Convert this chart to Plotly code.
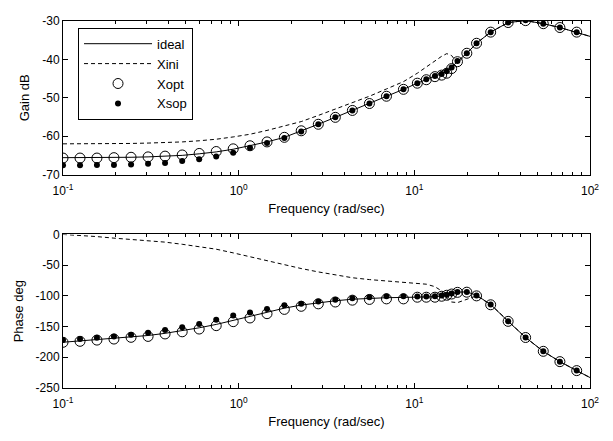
import plotly.graph_objects as go

# ---------------- data ----------------
freq = [0.1, 0.125, 0.156, 0.195, 0.244, 0.305, 0.381, 0.477, 0.596, 0.745,
        0.931, 1.16, 1.45, 1.82, 2.27, 2.84, 3.55, 4.44, 5.55, 6.94,
        8.67, 10.4, 11.7, 13.1, 14.3, 15.3, 16.3, 17.6, 19.9, 22.6,
        27.2, 34.2, 43.0, 54.2, 67.4, 84.0]
freq_line = freq + [100.0]

gain_ideal = [-65.6, -65.6, -65.6, -65.5, -65.5, -65.4, -65.2, -65.0, -64.6, -64.1,
              -63.4, -62.5, -61.5, -60.3, -58.7, -56.9, -55.1, -53.3, -51.5, -49.6,
              -47.8, -46.2, -45.2, -44.3, -43.8, -43.1, -42.1, -40.5, -38.4, -35.8,
              -32.9, -30.4, -29.9, -30.7, -31.7, -32.9, -34.0]
gain_xini = [-62.0, -62.0, -62.0, -62.0, -61.9, -61.8, -61.7, -61.5, -61.2, -60.8,
             -60.2, -59.5, -58.5, -57.4, -56.2, -54.6, -53.0, -51.4, -49.6, -47.7,
             -45.8, -43.6, -41.9, -40.3, -39.2, -38.5, -39.0, -41.0, -38.4, -35.8,
             -32.9, -30.4, -29.9, -30.7, -31.7, -32.9, -34.0]
gain_xopt = [-65.7, -65.7, -65.7, -65.6, -65.5, -65.4, -65.2, -64.9, -64.5, -64.0,
             -63.3, -62.5, -61.5, -60.3, -58.6, -56.9, -55.1, -53.3, -51.5, -49.6,
             -47.8, -46.2, -45.3, -44.5, -44.1, -43.6, -42.4, -40.6, -38.4, -35.8,
             -32.9, -30.4, -29.9, -30.7, -31.7, -32.9]
gain_xsop = [-67.6, -67.6, -67.5, -67.5, -67.4, -67.2, -67.0, -66.5, -66.0, -65.3,
             -64.3, -63.0, -61.8, -60.5, -58.8, -56.9, -55.1, -53.3, -51.5, -49.6,
             -47.8, -46.2, -45.2, -44.3, -43.8, -43.1, -42.1, -40.4, -38.4, -35.8,
             -32.9, -30.4, -29.8, -30.7, -31.7, -32.9]

phase_ideal = [-175.5, -173.5, -171.5, -169.5, -167.0, -164.5, -161.0, -157.0, -152.0, -146.5,
               -140.0, -133.5, -126.5, -120.0, -115.0, -111.0, -108.0, -105.5, -104.0, -103.0,
               -102.5, -102.0, -102.0, -101.5, -100.0, -98.5, -96.5, -94.0, -93.5, -99.0,
               -114.0, -141.5, -167.8, -190.3, -207.1, -221.7, -233.0]
phase_xini = [0.0, -1.5, -3.5, -6.0, -8.0, -10.0, -12.5, -16.0, -19.5, -24.0,
              -30.0, -36.5, -43.5, -50.0, -55.5, -61.0, -66.0, -70.5, -73.5, -76.0,
              -78.0, -79.5, -81.0, -85.0, -92.0, -104.0, -110.0, -111.0, -105.0, -100.0,
              -114.0, -141.5, -167.8, -190.3, -207.1, -221.7, -233.0]
phase_xopt = [-175.6, -174.0, -172.0, -170.3, -167.5, -166.0, -162.0, -158.5, -154.0, -148.5,
              -142.0, -136.0, -129.0, -122.0, -117.0, -113.0, -110.0, -107.0, -105.8, -104.9,
              -104.9, -102.2, -102.2, -102.2, -100.6, -99.0, -97.0, -94.3, -94.0, -100.0,
              -114.5, -141.5, -167.8, -190.3, -207.1, -221.7]
phase_xsop = [-172.0, -170.3, -168.0, -166.2, -163.5, -160.0, -155.7, -151.0, -145.8, -139.0,
              -132.0, -127.0, -121.5, -115.3, -112.7, -109.0, -106.4, -103.8, -102.2, -100.6,
              -100.6, -101.0, -101.0, -100.6, -99.5, -98.0, -96.0, -93.5, -93.5, -99.5,
              -114.0, -141.5, -167.8, -190.3, -207.1, -221.7]

x_tickvals = [0.1, 1, 10, 100]
x_ticktext = ["10<sup>-1</sup>", "10<sup>0</sup>", "10<sup>1</sup>", "10<sup>2</sup>"]
x_minor_ticks = [0.2, 0.3, 0.4, 0.5, 0.6, 0.7, 0.8, 0.9,
                 2, 3, 4, 5, 6, 7, 8, 9,
                 20, 30, 40, 50, 60, 70, 80, 90]
gain_ticks = [-70, -60, -50, -40, -30]
phase_ticks = [-250, -200, -150, -100, -50, 0]

FONT = "Liberation Sans, Arial, sans-serif"

fig = go.Figure()

def add_set(xa, ya, y_ideal, y_ini, y_opt, y_sop, show):
    fig.add_trace(go.Scatter(x=freq_line, y=y_ideal, mode="lines", name="ideal",
                             line=dict(color="black", width=1),
                             xaxis=xa, yaxis=ya, showlegend=show, legendrank=1))
    fig.add_trace(go.Scatter(x=freq_line, y=y_ini, mode="lines", name="Xini",
                             line=dict(color="black", width=1, dash="4px,3px"),
                             xaxis=xa, yaxis=ya, showlegend=show, legendrank=2))
    fig.add_trace(go.Scatter(x=freq, y=y_opt, mode="markers", name="Xopt",
                             marker=dict(symbol="circle-open", size=10, color="black",
                                         line=dict(width=1, color="black")),
                             xaxis=xa, yaxis=ya, showlegend=show, legendrank=3))
    fig.add_trace(go.Scatter(x=freq, y=y_sop, mode="markers", name="Xsop",
                             marker=dict(symbol="circle", size=6, color="black"),
                             xaxis=xa, yaxis=ya, showlegend=show, legendrank=4))

add_set("x", "y", gain_ideal, gain_xini, gain_xopt, gain_xsop, True)
add_set("x2", "y2", phase_ideal, phase_xini, phase_xopt, phase_xsop, False)

common_x = dict(type="log", range=[-1, 2], tickvals=x_tickvals, ticktext=x_ticktext,
                ticks="inside", ticklen=5, tickcolor="black", showline=True,
                linecolor="black", linewidth=1, mirror="ticks", showgrid=False,
                zeroline=False, tickfont=dict(family=FONT, size=12, color="black"),
                ticklabelstandoff=5,
                minor=dict(tickvals=x_minor_ticks, ticks="inside", ticklen=3,
                           tickcolor="black", showgrid=False),
                title=dict(text="Frequency (rad/sec)", font=dict(family=FONT, size=13, color="black"),
                           standoff=6))
common_y = dict(ticks="inside", ticklen=5, tickcolor="black", showline=True,
                linecolor="black", linewidth=1, mirror="ticks", showgrid=False,
                zeroline=False, tickfont=dict(family=FONT, size=12, color="black"))

fig.update_layout(
    width=597, height=425,
    margin=dict(l=55, r=15, t=6, b=39),
    paper_bgcolor="white", plot_bgcolor="white",
    font=dict(family=FONT, size=12, color="black"),
    xaxis=dict(domain=[0, 1], anchor="y", **common_x),
    yaxis=dict(domain=[0.5816, 1], anchor="x", range=[-70, -30], tickvals=gain_ticks,
               ticktext=[str(v) for v in gain_ticks],
               title=dict(text="Gain dB", font=dict(family=FONT, size=13, color="black"), standoff=9),
               **common_y),
    xaxis2=dict(domain=[0, 1], anchor="y2", **common_x),
    yaxis2=dict(domain=[0, 0.4184], anchor="x2", range=[-250, 0], tickvals=phase_ticks,
                ticktext=[str(v) for v in phase_ticks],
                title=dict(text="Phase deg", font=dict(family=FONT, size=13, color="black"), standoff=9),
                **common_y),
    legend=dict(x=0.0285, y=0.9816, xanchor="left", yanchor="top",
                bordercolor="black", borderwidth=1, bgcolor="white",
                font=dict(family=FONT, size=13, color="black"),
                itemwidth=68, tracegroupgap=0, entrywidth=60),
    showlegend=True,
)

fig.write_html("out.html")
